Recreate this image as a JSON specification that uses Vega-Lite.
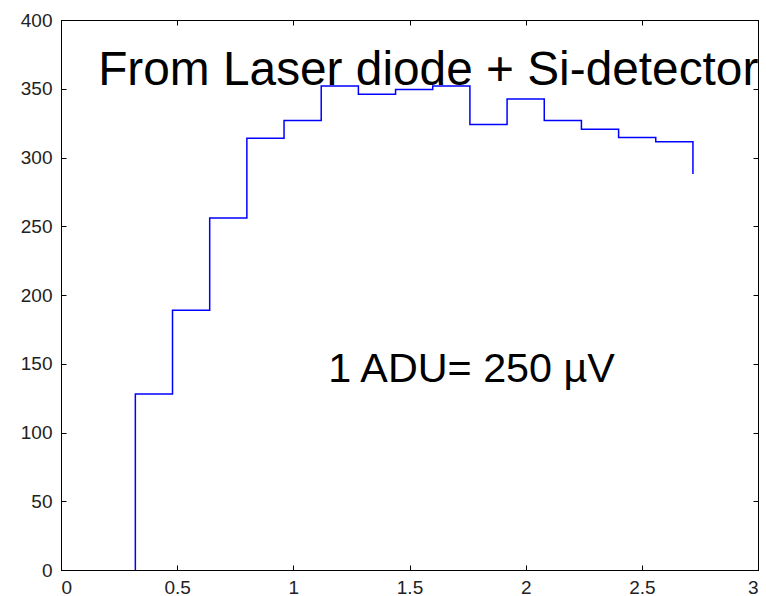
{
  "$schema": "https://vega.github.io/schema/vega-lite/v6.json",
  "autosize": "none",
  "width": 697,
  "height": 550,
  "padding": {"left": 61, "top": 20, "right": 8, "bottom": 26},
  "background": "white",
  "config": {
    "view": {"stroke": "black", "strokeWidth": 1},
    "axis": {
      "domainColor": "black",
      "tickColor": "black",
      "labelColor": "#222222",
      "labelFont": "Liberation Sans",
      "labelFontSize": 19,
      "grid": false,
      "tickSize": -5,
      "title": null
    }
  },
  "datasets": {
    "steps": [
      {"x": 0.32, "y": 0},
      {"x": 0.32, "y": 128},
      {"x": 0.48, "y": 189},
      {"x": 0.64, "y": 256},
      {"x": 0.80, "y": 314},
      {"x": 0.96, "y": 327},
      {"x": 1.12, "y": 352},
      {"x": 1.28, "y": 346},
      {"x": 1.44, "y": 349.5},
      {"x": 1.60, "y": 352},
      {"x": 1.76, "y": 324},
      {"x": 1.92, "y": 342.5},
      {"x": 2.08, "y": 327},
      {"x": 2.24, "y": 320.5},
      {"x": 2.40, "y": 314.5},
      {"x": 2.56, "y": 311.5},
      {"x": 2.72, "y": 288}
    ],
    "notes": [
      {"x": 0.16, "y": 352.7, "label": "From Laser diode + Si-detector", "size": 47.8},
      {"x": 1.15, "y": 137, "label": "1 ADU= 250 µV", "size": 41.3}
    ]
  },
  "layer": [
    {
      "data": {"name": "steps"},
      "mark": {"type": "line", "interpolate": "step-after", "color": "#0000ff", "strokeWidth": 1.5, "clip": true},
      "encoding": {
        "x": {
          "field": "x", "type": "quantitative",
          "scale": {"domain": [0, 3], "nice": false, "zero": false},
          "axis": {"values": [0, 0.5, 1, 1.5, 2, 2.5, 3], "labelPadding": 13, "labelExpr": "datum.value"}
        },
        "y": {
          "field": "y", "type": "quantitative",
          "scale": {"domain": [0, 400], "nice": false},
          "axis": {"values": [0, 50, 100, 150, 200, 250, 300, 350, 400], "labelPadding": 14}
        }
      }
    },
    {
      "data": {"name": "steps"},
      "mark": {"type": "point", "opacity": 0},
      "encoding": {
        "x": {
          "field": "x", "type": "quantitative",
          "scale": {"domain": [0, 3], "nice": false, "zero": false},
          "axis": {"orient": "top", "values": [0, 0.5, 1, 1.5, 2, 2.5, 3], "labels": false}
        },
        "y": {
          "field": "y", "type": "quantitative",
          "scale": {"domain": [0, 400], "nice": false},
          "axis": {"orient": "right", "values": [0, 50, 100, 150, 200, 250, 300, 350, 400], "labels": false}
        }
      }
    },
    {
      "data": {"name": "notes"},
      "mark": {"type": "text", "align": "left", "baseline": "alphabetic", "font": "Liberation Sans", "color": "black"},
      "encoding": {
        "x": {"field": "x", "type": "quantitative", "axis": null},
        "y": {"field": "y", "type": "quantitative", "axis": null},
        "text": {"field": "label"},
        "size": {"field": "size", "type": "quantitative", "scale": null}
      }
    }
  ],
  "resolve": {"axis": {"x": "independent", "y": "independent"}}
}
